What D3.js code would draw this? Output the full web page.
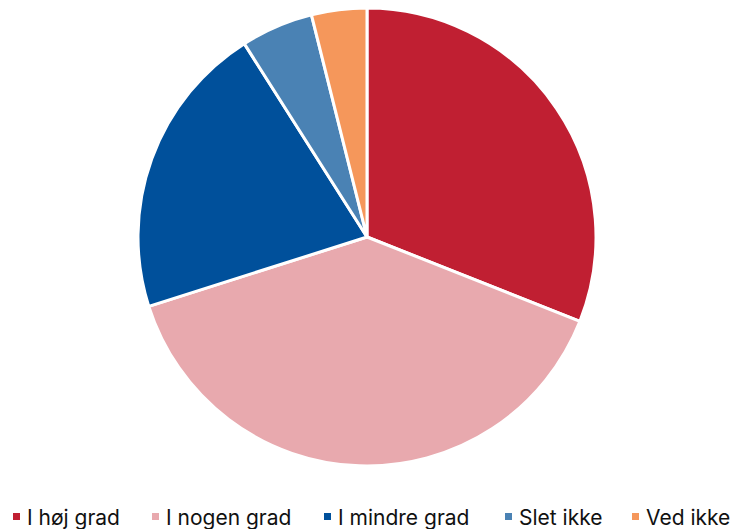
<!DOCTYPE html>
<html><head><meta charset="utf-8">
<script src="https://cdn.jsdelivr.net/npm/d3@7"></script>
<style>body{margin:0;background:#fff}svg{display:block}</style>
</head><body><svg id="c" width="735" height="529"></svg>
<script>
const categories=["I høj grad","I nogen grad","I mindre grad","Slet ikke","Ved ikke"];
const values=[31,39.1,20.9,5.1,3.9];
const colors=["#C01F32","#E8A9AE","#00509B","#4A82B4","#F5975B"];
const legendX=[13,152,324,505,632];

const svg=d3.select("#c");
const cx=367,cy=237,r=229;
const pie=d3.pie().sort(null).value(d=>d)(values);
const arc=d3.arc().innerRadius(0).outerRadius(r);
const g=svg.append("g").attr("transform",`translate(${cx},${cy})`);
g.selectAll("path").data(pie).join("path")
 .attr("d",arc).attr("fill",(d,i)=>colors[i])
 .attr("stroke","#fff").attr("stroke-width",3).attr("stroke-linejoin","round");

const lg=svg.append("g");
categories.forEach((c,i)=>{
  const x=legendX[i];
  lg.append("rect").attr("x",x).attr("y",513).attr("width",7).attr("height",7).attr("fill",colors[i]);
  lg.append("text").attr("x",x+14).attr("y",524.5).text(c)
    .attr("font-family","Inter, 'Noto Sans', sans-serif").attr("font-size",21).attr("fill","#111");
});
</script></body></html>
